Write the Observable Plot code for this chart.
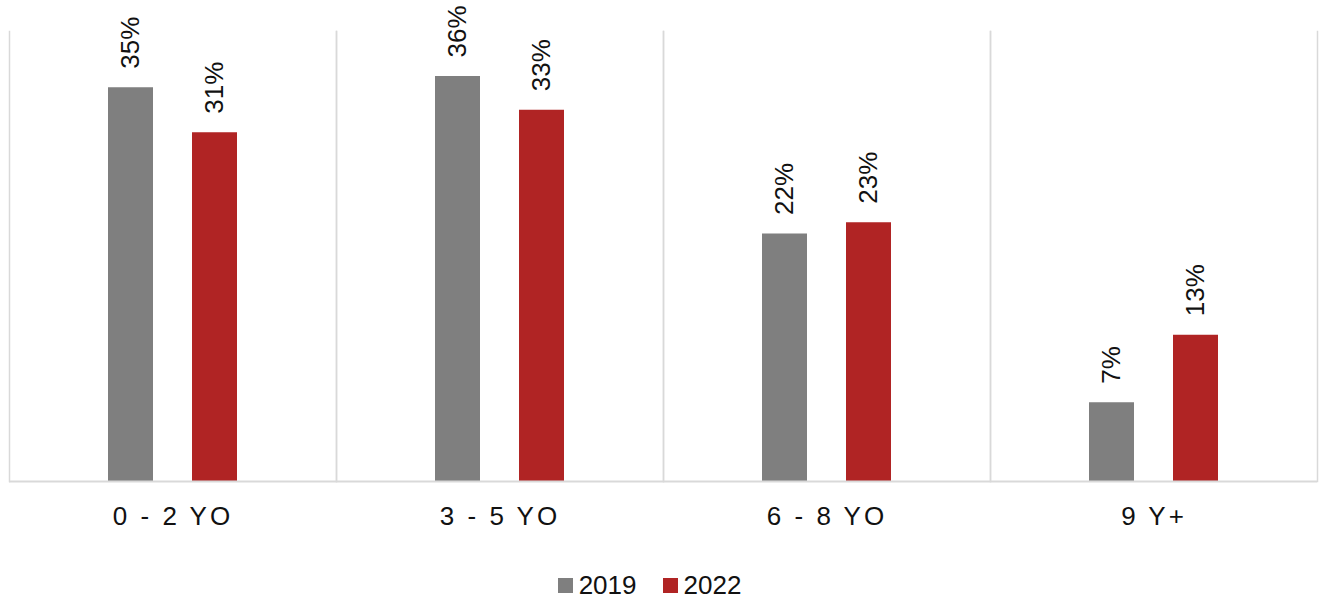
<!DOCTYPE html>
<html>
<head>
<meta charset="utf-8">
<script src="https://cdn.jsdelivr.net/npm/d3@7"></script>
<script src="https://cdn.jsdelivr.net/npm/@observablehq/plot@0.6"></script>
<style>
  html, body { margin: 0; padding: 0; background: #fff; }
  #chart { width: 1319px; }
  [aria-label^="fx-axis"] text { letter-spacing: 3px; }
  #legend { width: 1319px; display: flex; justify-content: center; margin-top: 9px; box-sizing: border-box; padding-right: 20px; }
  #legend span { margin-right: 26px !important; }
  #legend span:last-child { margin-right: 0 !important; }
  #legend svg { margin-right: 6px !important; }
</style>
</head>
<body>
<div id="chart"></div>
<div id="legend"></div>
<script>
// Age groups and survey years
const categories = ["0 - 2 YO", "3 - 5 YO", "6 - 8 YO", "9 Y+"];
const years = ["2019", "2022"];
const values2019 = [35, 36, 22, 7];
const values2022 = [31, 33, 23, 13];
const colors = ["#7f7f7f", "#b02424"];

const rows = categories.flatMap((c, i) => [
  {group: c, year: years[0], value: values2019[i]},
  {group: c, year: years[1], value: values2022[i]}
]);

const font = "'Liberation Sans', Arial, sans-serif";

const chart = Plot.plot({
  width: 1319,
  height: 560,
  marginTop: 31,
  marginBottom: 79,
  marginLeft: 8,
  marginRight: 2,
  style: {fontFamily: font, fontSize: "26px", color: "#111", background: "#fff"},
  fx: {domain: categories, padding: 0, axis: "bottom", tickSize: 0, tickPadding: 25, label: null},
  x: {domain: years, paddingInner: 0.47, paddingOuter: 1.17, axis: null},
  y: {domain: [0, 40], axis: null},
  color: {domain: years, range: colors},
  marks: [
    Plot.frame({anchor: "left", stroke: "#d9d9d9", strokeWidth: 1.5}),
    Plot.frame({anchor: "right", stroke: "#d9d9d9", strokeWidth: 1.5}),
    Plot.barY(rows, {fx: "group", x: "year", y: "value", fill: "year"}),
    Plot.ruleY([0], {stroke: "#d9d9d9", strokeWidth: 2}),
    Plot.text(rows, {
      fx: "group", x: "year", y: "value",
      text: d => `${d.value}%`,
      rotate: -90, textAnchor: "start", lineAnchor: "middle",
      dy: -19, fontSize: 26, fill: "#111"
    })
  ]
});
document.getElementById("chart").appendChild(chart);

const legend = Plot.legend({
  color: {domain: years, range: colors},
  legend: "swatches",
  swatchSize: 15,
  style: {fontFamily: font, fontSize: "26px", color: "#111"}
});
document.getElementById("legend").appendChild(legend);
</script>
</body>
</html>
